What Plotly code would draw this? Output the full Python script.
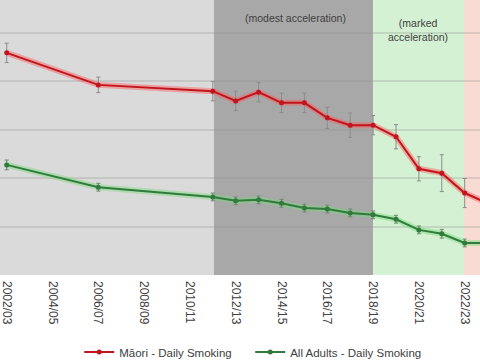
import plotly.graph_objects as go

years = [2002, 2006, 2011, 2012, 2013, 2014, 2015, 2016, 2017, 2018, 2019, 2020, 2021, 2022, 2023]
maori = [45.8, 39.2, 37.9, 35.9, 37.7, 35.5, 35.5, 32.4, 30.9, 30.9, 28.5, 21.9, 21.0, 16.9, 14.8]
maori_err = [2.0, 1.6, 2.0, 2.0, 2.0, 2.0, 2.0, 2.2, 2.5, 2.0, 2.5, 2.5, 3.8, 3.0, 3.0]
adults = [22.7, 18.1, 16.1, 15.3, 15.5, 14.8, 13.8, 13.6, 12.8, 12.4, 11.5, 9.3, 8.5, 6.6, 6.6]
adults_err = [1.0, 0.8, 0.8, 0.8, 0.8, 0.8, 0.8, 0.8, 0.8, 0.8, 0.8, 0.8, 0.9, 0.8, 0.8]
tick_years = [2002, 2004, 2006, 2008, 2010, 2012, 2014, 2016, 2018, 2020, 2022]
tick_labels = ["2002/03", "2004/05", "2006/07", "2008/09", "2010/11", "2012/13",
               "2014/15", "2016/17", "2018/19", "2020/21", "2022/23"]
phase_bounds = [2001.0, 2011.05, 2018.0, 2021.97, 2025.0]
phase_colors = ["#dadada", "#a8a8a8", "#d5f1d3", "#f8dcd3"]

fig = go.Figure()

for i, c in enumerate(phase_colors):
    fig.add_vrect(x0=phase_bounds[i], x1=phase_bounds[i + 1], fillcolor=c,
                  line_width=0, layer="below")

# glow lines
fig.add_trace(go.Scatter(x=years, y=maori, mode="lines",
                         line=dict(color="rgba(255,90,90,0.45)", width=6),
                         showlegend=False, hoverinfo="skip"))
fig.add_trace(go.Scatter(x=years, y=adults, mode="lines",
                         line=dict(color="rgba(120,220,120,0.45)", width=6),
                         showlegend=False, hoverinfo="skip"))

fig.add_trace(go.Scatter(
    x=years, y=maori, mode="lines+markers", name="Māori - Daily Smoking",
    line=dict(color="#c0141e", width=2), marker=dict(size=5, color="#c0141e"),
    error_y=dict(type="data", array=maori_err, color="#8c8c8c", thickness=1, width=2)))
fig.add_trace(go.Scatter(
    x=years, y=adults, mode="lines+markers", name="All Adults - Daily Smoking",
    line=dict(color="#2f7a3c", width=2), marker=dict(size=5, color="#2f7a3c"),
    error_y=dict(type="data", array=adults_err, color="#6b8a6b", thickness=1, width=2)))

fig.add_annotation(x=2014.59, y=0.964, xref="x", yref="paper", text="(modest acceleration)",
                   showarrow=False, font=dict(size=10.5, color="#404040"))
fig.add_annotation(x=2019.96, y=0.945, xref="x", yref="paper", text="(marked<br>acceleration)",
                   showarrow=False, font=dict(size=10.5, color="#404040"))
fig.add_annotation(x=2005.77, y=1.0, xref="x", yref="paper", text="(steady)",
                   xanchor="right", yanchor="bottom", yshift=-1,
                   showarrow=False, font=dict(size=10, color="#404040"))

fig.update_layout(
    width=480, height=360,
    margin=dict(l=0, r=0, t=0, b=85, autoexpand=False),
    paper_bgcolor="white", plot_bgcolor="white",
    font=dict(family="Liberation Sans, Arial, sans-serif", size=11, color="#404040"),
    showlegend=True,
    legend=dict(orientation="h", x=0.165, xanchor="left", y=-0.28, yanchor="middle",
                font=dict(size=11.5, color="#404040"), bgcolor="rgba(0,0,0,0)",
                itemwidth=30, entrywidth=126, entrywidthmode="pixels"),
    xaxis=dict(range=[2001.707, 2022.668], tickvals=tick_years, ticktext=tick_labels,
               tickangle=90, showgrid=False, zeroline=False, showline=False,
               automargin=False, ticklabelstandoff=5, ticklabeloverflow="allow",
               tickfont=dict(size=12, color="#404040")),
    yaxis=dict(range=[0, 56.7], dtick=10, showticklabels=False, showgrid=True,
               automargin=False,
               gridcolor="rgba(140,140,140,0.25)", gridwidth=1.5, zeroline=False),
)

fig.write_html("out.html")
